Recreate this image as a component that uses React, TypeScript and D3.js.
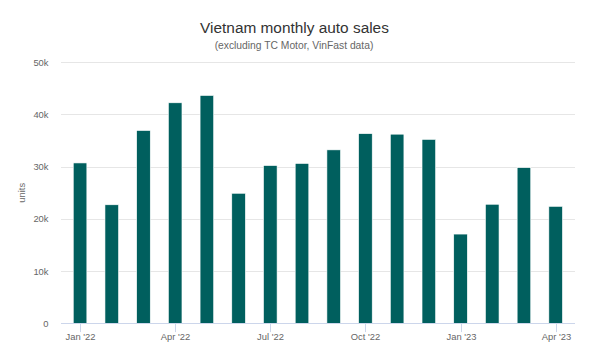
import React, { useEffect, useRef } from "react";
import * as d3 from "d3";

const months = [
  "Jan '22", "Feb '22", "Mar '22", "Apr '22", "May '22", "Jun '22", "Jul '22", "Aug '22",
  "Sep '22", "Oct '22", "Nov '22", "Dec '22", "Jan '23", "Feb '23", "Mar '23", "Apr '23",
];
const sales = [
  30700, 22700, 36900, 42200, 43600, 24900, 30200, 30600,
  33200, 36300, 36200, 35200, 17100, 22800, 29800, 22400,
];
const labelledMonths = ["Jan '22", "Apr '22", "Jul '22", "Oct '22", "Jan '23", "Apr '23"];
const yTicks = [0, 10000, 20000, 30000, 40000, 50000];

const width = 600;
const height = 353;
const font = "Liberation Sans, Arial, sans-serif";

export default function App() {
  const ref = useRef<SVGSVGElement>(null);

  useEffect(() => {
    const svg = d3.select(ref.current);
    svg.selectAll("*").remove();

    const plotLeft = 61, plotRight = 575, plotTop = 62, plotBottom = 323.5;

    const x = d3.scaleBand<string>()
      .domain(months)
      .range([64.2, 571.5]);
    const y = d3.scaleLinear().domain([0, 50000]).range([plotBottom, plotTop]);

    svg.append("rect").attr("width", width).attr("height", height).attr("fill", "#fff");

    // titles
    svg.append("text")
      .attr("x", 294.5).attr("y", 33)
      .attr("text-anchor", "middle")
      .attr("font-family", font)
      .attr("font-size", 15.4)
      .attr("fill", "#333")
      .text("Vietnam monthly auto sales");
    svg.append("text")
      .attr("x", 294).attr("y", 49)
      .attr("text-anchor", "middle")
      .attr("font-family", font)
      .attr("font-size", 10.3)
      .attr("fill", "#666")
      .text("(excluding TC Motor, VinFast data)");

    // gridlines
    svg.append("g").selectAll("line")
      .data(yTicks.filter(d => d > 0))
      .join("line")
      .attr("x1", plotLeft).attr("x2", plotRight)
      .attr("y1", d => Math.round(y(d)) + 0.5).attr("y2", d => Math.round(y(d)) + 0.5)
      .attr("stroke", "#e6e6e6");

    // y labels
    svg.append("g").selectAll("text")
      .data(yTicks)
      .join("text")
      .attr("x", 48.5).attr("y", d => y(d) + 3.5)
      .attr("text-anchor", "end")
      .attr("font-family", font)
      .attr("font-size", 9.4)
      .attr("fill", "#666")
      .text(d => (d === 0 ? "0" : d / 1000 + "k"));

    svg.append("text")
      .attr("transform", `translate(25,${(plotTop + plotBottom) / 2}) rotate(-90)`)
      .attr("text-anchor", "middle")
      .attr("font-family", font)
      .attr("font-size", 9.4)
      .attr("fill", "#666")
      .text("units");

    // bars
    const barW = 13.6;
    svg.append("g").selectAll("rect")
      .data(months)
      .join("rect")
      .attr("x", (d) => x(d)! + x.bandwidth() / 2 - barW / 2)
      .attr("y", (d, i) => y(sales[i]))
      .attr("width", barW)
      .attr("height", (d, i) => plotBottom - y(sales[i]))
      .attr("fill", "#005f5e")
      .attr("stroke", "#ffffff")
      .attr("stroke-width", 0.6);

    // x axis
    svg.append("line")
      .attr("x1", plotLeft).attr("x2", plotRight)
      .attr("y1", plotBottom).attr("y2", plotBottom)
      .attr("stroke", "#ccd6eb");
    const xt = svg.append("g").selectAll("g")
      .data(labelledMonths)
      .join("g")
      .attr("transform", d => `translate(${Math.round(x(d)! + x.bandwidth() / 2) + 0.5},0)`);
    xt.append("line")
      .attr("y1", plotBottom).attr("y2", plotBottom + 8.6)
      .attr("stroke", "#ccd6eb");
    xt.append("text")
      .attr("y", 339.5)
      .attr("text-anchor", "middle")
      .attr("font-family", font)
      .attr("font-size", 9.4)
      .attr("fill", "#666")
      .text(d => d);
  }, []);

  return <svg ref={ref} width={width} height={height} style={{ display: "block", position: "absolute", left: 0, top: 0 }} />;
}
